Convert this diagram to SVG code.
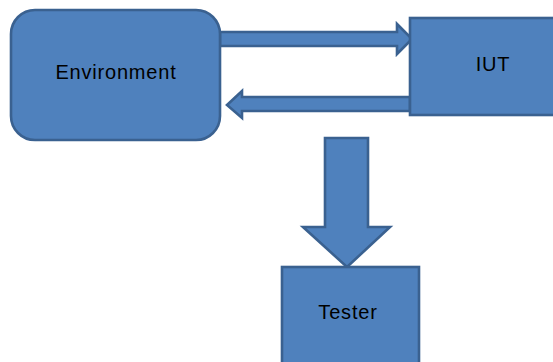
<svg xmlns="http://www.w3.org/2000/svg" width="553" height="362" viewBox="0 0 553 362">
<style>
.shape{fill:#4f81bd;stroke:#3a6190;stroke-width:2.6;stroke-linejoin:miter}
.lbl{font-family:"Liberation Sans",Arial,sans-serif;font-size:20px;letter-spacing:0.8px;fill:#000;text-anchor:middle}
</style>
<rect width="553" height="362" fill="#fff"/>
<g id="connectors">
<path class="shape" d="M220,32 L397,32 L397,24 L412,39 L397,54 L397,46 L220,46 Z"/>
<path class="shape" d="M410,97 L242,97 L242,91 L227,105 L242,118 L242,111 L410,111 Z"/>
<path class="shape" d="M325,138 L368,138 L368,227 L390,227 L347,267 L303,227 L325,227 Z"/>
</g>
<g id="environment">
<rect class="shape" x="11" y="10" width="209" height="130" rx="24" ry="24"/>
<text class="lbl" x="116" y="79">Environment</text>
</g>
<g id="iut">
<rect class="shape" x="410" y="18" width="150" height="97"/>
<text class="lbl" x="493" y="71">IUT</text>
</g>
<g id="tester">
<rect class="shape" x="282" y="267" width="137" height="110"/>
<text class="lbl" x="348" y="319">Tester</text>
</g>
</svg>
